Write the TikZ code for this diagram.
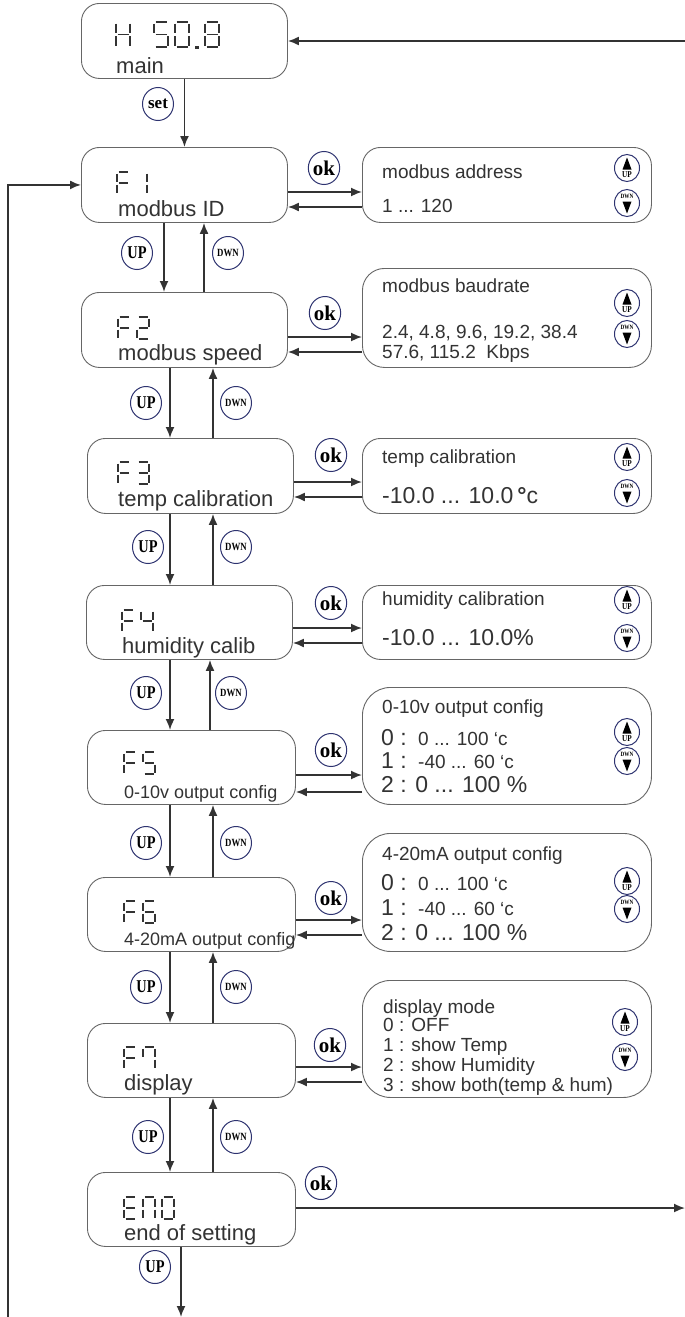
\documentclass[tikz,border=0pt]{standalone}
\usepackage{fontspec}
\setmainfont{Liberation Sans}
\newfontfamily\btnfont{Liberation Serif}
\newfontfamily\btncond{Liberation Serif}[FakeStretch=0.8]
\usetikzlibrary{arrows.meta,shapes.geometric}
\definecolor{ink}{HTML}{333333}
\definecolor{boxc}{HTML}{666666}
\definecolor{navy}{HTML}{2E3370}
\newcommand\fs[1]{\fontsize{#1}{#1}\selectfont}
\def\sw{12}\def\sh{22}
% seven segment digit: x, y, then flags a b c d e f g
\newcommand\SD[9]{%
 \begin{scope}[shift={(#1,#2)}]
 \ifnum#3=1\relax\draw[segline] (1.5,0)--(\sw-1.5,0);\fi
 \ifnum#4=1\relax\draw[segline] (\sw,1.5)--(\sw,\sh/2-1.5);\fi
 \ifnum#5=1\relax\draw[segline] (\sw,\sh/2+1.5)--(\sw,\sh-1.5);\fi
 \ifnum#6=1\relax\draw[segline] (1.5,\sh)--(\sw-1.5,\sh);\fi
 \ifnum#7=1\relax\draw[segline] (0,\sh/2+1.5)--(0,\sh-1.5);\fi
 \ifnum#8=1\relax\draw[segline] (0,1.5)--(0,\sh/2-1.5);\fi
 \ifnum#9=1\relax\draw[segline] (1.5,\sh/2)--(\sw-1.5,\sh/2);\fi
 \end{scope}}
\begin{document}
\begin{tikzpicture}[x=1pt,y=-1pt,
  segline/.style={draw=ink,line width=1.9pt},
  lbox/.style={draw=boxc,line width=0.9pt,rounded corners=18pt,anchor=north west,inner sep=0pt,minimum width=206pt,minimum height=75pt},
  rbox/.style={draw=boxc,line width=0.9pt,rounded corners=18pt,anchor=north west,inner sep=0pt,minimum width=289pt},
  lbl/.style={anchor=base west,inner sep=0pt,text=ink,font=\fs{22}},
  rt/.style={anchor=base west,inner sep=0pt,text=ink,font=\fs{19}},
  arr/.style={draw=ink,line width=1.7pt,-{Latex[length=11pt,width=9pt]}},
  btn/.style={draw=navy,line width=1pt,ellipse,minimum width=31pt,minimum height=33pt,inner sep=0pt,text=black},
  okb/.style={btn,font=\btnfont\bfseries\fs{21}},
  upb/.style={btn,font=\btncond\bfseries\fs{18}},
  dnb/.style={btn,font=\btncond\bfseries\fs{11}},
  icon/.style={draw=navy,line width=1pt,ellipse,minimum width=25pt,minimum height=27pt,inner sep=0pt},
  upicon/.pic={
    \node[icon] (-o) {};
    \fill[black] (-4.5,1.5) -- (4.5,1.5) -- (0,-10.5) -- cycle;
    \node[font=\btncond\bfseries\fs{9},inner sep=0pt] (-t) at (0,7) {UP};
  },
  dnicon/.pic={
    \node[icon] (-o) {};
    \fill[black] (-4.5,-1.5) -- (4.5,-1.5) -- (0,10.5) -- cycle;
    \node[font=\btncond\bfseries\fs{6.5},inner sep=0pt] (-t) at (0,-6.5) {DWN};
  }]
\fill[white] (0,0) rectangle (685,1317);
\useasboundingbox (0,0) rectangle (685,1317);

% ---------- left boxes ----------
\node[lbox] (main) at (81,3) {};
\node[lbox] (F1) at (81,147) {};
\node[lbox] (F2) at (81,292) {};
\node[lbox] (F3) at (87,438) {};
\node[lbox,minimum height=74pt] (F4) at (86,585) {};
\node[lbox,minimum width=208pt,minimum height=74pt] (F5) at (87,730) {};
\node[lbox,minimum width=208pt,minimum height=74pt] (F6) at (87,877) {};
\node[lbox,minimum width=208pt,minimum height=74pt] (F7) at (87,1023) {};
\node[lbox,minimum width=208pt,minimum height=74pt] (END) at (87,1172) {};

% ---------- right boxes ----------
\node[rbox,minimum height=75pt] (R1) at (362,147) {};
\node[rbox,minimum height=99pt,rounded corners=22pt] (R2) at (362,268) {};
\node[rbox,minimum height=75pt] (R3) at (362,438) {};
\node[rbox,minimum height=74pt] (R4) at (362,585) {};
\node[rbox,minimum height=117pt,rounded corners=28pt] (R5) at (362,687) {};
\node[rbox,minimum height=118pt,rounded corners=28pt] (R6) at (362,833) {};
\node[rbox,minimum height=117pt,rounded corners=28pt] (R7) at (362,980) {};

% ---------- seven segment displays ----------
\begingroup
\def\sw{14}\def\sh{25}
\SD{116}{22}0110111
\SD{154}{22}1011011
\SD{175}{22}1111110
\fill[ink] (195,45.5) rectangle (198.5,49);
\SD{205}{22}1111111
\endgroup
\SD{117}{172}1000111 \SD{135}{172}0110000
\SD{118}{317}1000111 \SD{137}{317}1101101
\SD{118}{462}1000111 \SD{137}{462}1111001
\SD{122}{610}1000111 \SD{141}{610}0110011
\SD{124}{752}1000111 \SD{143}{752}1011011
\SD{124}{901}1000111 \SD{143}{901}1011111
\SD{124}{1047}1000111 \SD{143}{1047}1110010
\SD{124}{1197}1001111 \SD{143}{1197}1110110 \SD{162}{1197}1111110

% ---------- left labels ----------
\node[lbl] (l0) at (116,73) {main};
\node[lbl] (l1) at (118,216) {modbus ID};
\node[lbl] (l2) at (118,360) {modbus speed};
\node[lbl] (l3) at (118,506) {temp calibration};
\node[lbl] (l4) at (122,653) {humidity calib};
\node[lbl,font=\fs{18}] (l5) at (124,798) {0-10v output config};
\node[lbl,font=\fs{18}] (l6) at (124,945) {4-20mA output config};
\node[lbl] (l7) at (124,1090) {display};
\node[lbl] (l8) at (124,1240) {end of setting};

% ---------- right texts ----------
\node[rt] (r1a) at (382,178) {modbus address};
\node[rt] (r1b) at (382,212) {1 ... 120};
\node[rt] (r2a) at (382,292) {modbus baudrate};
\node[rt] (r2b) at (382,338) {2.4, 4.8, 9.6, 19.2, 38.4};
\node[rt] (r2c) at (382,358) {57.6, 115.2\ \ Kbps};
\node[rt] (r3a) at (382,463) {temp calibration};
\node[rt,font=\fs{23}] (r3b) at (382,503) {-10.0 ... 10.0\,{\bfseries °}c};
\node[rt] (r4a) at (382,605) {humidity calibration};
\node[rt,font=\fs{23}] (r4b) at (382,645) {-10.0 ... 10.0\%};
\node[rt] (r5a) at (382,713) {0-10v output config};
\node[rt,font=\fs{23}] (r5b) at (381,745) {0 :};
\node[rt] (r5bb) at (418,745) {0 ... 100 \textquoteleft c};
\node[rt,font=\fs{23}] (r5c) at (381,768) {1 :};
\node[rt] (r5cc) at (418,768) {-40 ... 60 \textquoteleft c};
\node[rt,font=\fs{23}] (r5d) at (381,792) {2 : 0 ... 100 \%};
\node[rt] (r6a) at (382,860) {4-20mA output config};
\node[rt,font=\fs{23}] (r6b) at (381,890) {0 :};
\node[rt] (r6bb) at (418,890) {0 ... 100 \textquoteleft c};
\node[rt,font=\fs{23}] (r6c) at (381,915) {1 :};
\node[rt] (r6cc) at (418,915) {-40 ... 60 \textquoteleft c};
\node[rt,font=\fs{23}] (r6d) at (381,940) {2 : 0 ... 100 \%};
\node[rt] (r7a) at (383,1013) {display mode};
\node[rt] (r7b) at (383,1031) {0 : OFF};
\node[rt] (r7c) at (383,1051) {1 : show Temp};
\node[rt] (r7d) at (383,1071) {2 : show Humidity};
\node[rt] (r7e) at (383,1091) {3 : show both(temp \& hum)};

% ---------- icons ----------
\pic (i1u) at (627,168) {upicon};  \pic (i1d) at (627,203) {dnicon};
\pic (i2u) at (627,303) {upicon};  \pic (i2d) at (627,334) {dnicon};
\pic (i3u) at (627,457) {upicon};  \pic (i3d) at (627,493) {dnicon};
\pic (i4u) at (627,600) {upicon};  \pic (i4d) at (627,638) {dnicon};
\pic (i5u) at (627,732) {upicon};  \pic (i5d) at (627,761) {dnicon};
\pic (i6u) at (627,881) {upicon};  \pic (i6d) at (627,909) {dnicon};
\pic (i7u) at (625,1022) {upicon}; \pic (i7d) at (625,1057) {dnicon};

% ---------- edge coordinates ----------
\coordinate (inR) at (685,41);
\coordinate (outR) at (685,1208);
\coordinate (loopB) at (8,1317);
\coordinate (endB) at (181,1317);

% ---------- connectors ----------
\draw[arr] (inR) -- (main.east |- inR);
\draw[arr] (main.south) -- (F1.north);
\draw[arr] (loopB) |- (F1.west);
\draw[arr] (END.east |- outR) -- (outR);
\draw[arr] (END.south -| endB) -- (endB);

\foreach \a/\b/\d/\u in {F1/F2/164/204, F2/F3/170/213, F3/F4/170/213, F4/F5/170/210, F5/F6/170/213, F6/F7/170/213, F7/END/170/213}{
  \draw[arr] (\a.south -| \d,0) -- (\b.north -| \d,0);
  \draw[arr] (\b.north -| \u,0) -- (\a.south -| \u,0);
}
\foreach \a/\r/\p/\q in {F1/R1/192/207, F2/R2/337/352, F3/R3/482/497, F4/R4/628/643, F5/R5/775/792, F6/R6/920/935, F7/R7/1067/1082}{
  \draw[arr] (\a.east |- 0,\p) -- (\r.west |- 0,\p);
  \draw[arr] (\r.west |- 0,\q) -- (\a.east |- 0,\q);
}

% ---------- buttons ----------
\node[btn,font=\btnfont\bfseries\fs{17}] (bset) at (158,104) {set};
\node[okb] (ok1) at (324,168) {ok};
\node[okb] (ok2) at (325,313) {ok};
\node[okb] (ok3) at (331,455) {ok};
\node[okb] (ok4) at (331,603) {ok};
\node[okb] (ok5) at (331,750) {ok};
\node[okb] (ok6) at (331,898) {ok};
\node[okb] (ok7) at (330,1045) {ok};
\node[okb] (ok8) at (321,1183) {ok};
\node[upb] (u1) at (137,253) {UP}; \node[dnb] (d1) at (228,253) {DWN};
\node[upb] (u2) at (146,403) {UP}; \node[dnb] (d2) at (236,403) {DWN};
\node[upb] (u3) at (148,547) {UP}; \node[dnb] (d3) at (236,547) {DWN};
\node[upb] (u4) at (146,693) {UP}; \node[dnb] (d4) at (231,693) {DWN};
\node[upb] (u5) at (146,843) {UP}; \node[dnb] (d5) at (236,843) {DWN};
\node[upb] (u6) at (146,987) {UP}; \node[dnb] (d6) at (236,987) {DWN};
\node[upb] (u7) at (148,1137) {UP}; \node[dnb] (d7) at (236,1137) {DWN};
\node[upb] (u8) at (155,1267) {UP};
\end{tikzpicture}
\end{document}
